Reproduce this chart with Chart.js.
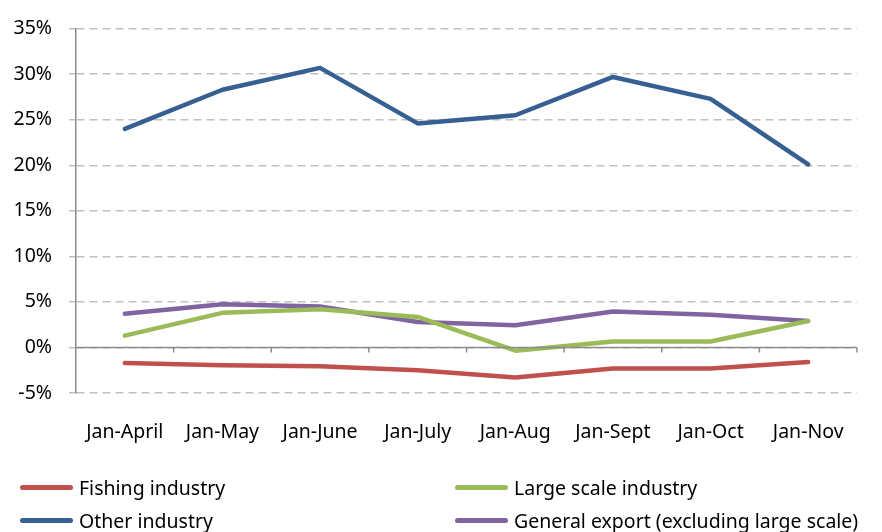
<!DOCTYPE html>
<html>
<head>
<meta charset="utf-8">
<script src="https://cdn.jsdelivr.net/npm/chart.js@4"></script>
<style>
  html, body { margin: 0; padding: 0; background: #fff; }
  #wrap { position: relative; width: 882px; height: 532px; overflow: hidden; }
  #legend { position: absolute; left: 0; top: 0; width: 882px; height: 532px; pointer-events: none;
            font-family: "Noto Sans", sans-serif; font-size: 19.5px; color: #000; }
  .item { position: absolute; display: flex; align-items: center; white-space: nowrap; }
  .swatch { width: 53px; height: 5px; border-radius: 3px; margin-right: 6px; }
</style>
</head>
<body>
<div id="wrap">
  <canvas id="myChart" width="882" height="532"></canvas>
  <div id="legend"></div>
</div>
<script>
// data (percent)
const labels = ['Jan-April', 'Jan-May', 'Jan-June', 'Jan-July', 'Jan-Aug', 'Jan-Sept', 'Jan-Oct', 'Jan-Nov'];
const fishing = [-1.7, -1.95, -2.05, -2.5, -3.3, -2.3, -2.3, -1.6];
const largeScale = [1.3, 3.8, 4.2, 3.35, -0.35, 0.65, 0.65, 2.9];
const otherIndustry = [24.0, 28.3, 30.7, 24.6, 25.5, 29.7, 27.3, 20.1];
const generalExport = [3.7, 4.75, 4.5, 2.8, 2.45, 3.95, 3.6, 2.9];
const yTicks = [-5, 0, 5, 10, 15, 20, 25, 30, 35];

const names = ['Fishing industry', 'Large scale industry', 'Other industry', 'General export (excluding large scale)'];
const colors = ['#C0504D', '#9BBB59', '#376092', '#8064A2'];
const series = [fishing, largeScale, otherIndustry, generalExport];

const font = "'Noto Sans', sans-serif";
const fontSize = 19.5;

// zero line + category boundary tick marks, like the excel axis
const zeroAxis = {
    id: 'zeroAxis',
    afterDatasetsDraw(chart) {
        const ctx = chart.ctx;
        const x = chart.scales.x;
        const y0 = chart.scales.y.getPixelForValue(0);
        const area = chart.chartArea;
        ctx.save();
        ctx.strokeStyle = '#8C8C8C';
        ctx.lineWidth = 1.5;
        ctx.beginPath();
        ctx.moveTo(area.left, y0);
        ctx.lineTo(area.right, y0);
        const step = (area.right - area.left) / labels.length;
        for (let i = 1; i <= labels.length; i++) {
            const px = x.getPixelForValue(i - 1) + step / 2;
            ctx.moveTo(px, y0);
            ctx.lineTo(px, y0 + 5);
        }
        ctx.stroke();
        ctx.restore();
    }
};

const myChart = new Chart('myChart', {
    type: 'line',
    data: {
        labels: labels,
        datasets: series.map((s, i) => ({
            label: names[i],
            data: s,
            borderColor: colors[i],
            backgroundColor: colors[i],
            borderWidth: 4.5,
            pointRadius: 0,
            tension: 0,
            borderCapStyle: 'round',
            borderJoinStyle: 'round'
        }))
    },
    options: {
        responsive: false,
        animation: false,
        layout: { padding: { left: 0, right: 25, top: 25, bottom: 0 } },
        plugins: {
            legend: { display: false },
            tooltip: { enabled: false }
        },
        scales: {
            x: {
                offset: true,
                grid: { display: false, drawTicks: false },
                border: { display: false },
                ticks: { color: '#000', font: { family: font, size: fontSize }, padding: 28, maxRotation: 0, autoSkip: false },
                afterFit(scale) { scale.height = 139; }
            },
            y: {
                min: -5,
                max: 35,
                afterBuildTicks(scale) { scale.ticks = yTicks.map(v => ({ value: v })); },
                grid: { color: '#C0C0C0', lineWidth: 1.5, tickLength: 7, tickColor: '#C0C0C0' },
                border: { display: true, color: '#8C8C8C', width: 1.5, dash: [8, 5] },
                ticks: {
                    color: '#000',
                    font: { family: font, size: fontSize },
                    padding: 17,
                    callback: v => v + '%'
                },
                afterFit(scale) { scale.width = 76; }
            }
        }
    },
    plugins: [zeroAxis]
});

// html legend in two columns, built from the chart datasets
const legendPos = [[20, 487], [455, 487], [20, 520], [455, 520]];
const legend = document.getElementById('legend');
myChart.data.datasets.forEach((ds, i) => {
    const item = document.createElement('div');
    item.className = 'item';
    item.style.left = legendPos[i][0] + 'px';
    item.style.top = (legendPos[i][1] - 13) + 'px';
    item.style.height = '26px';
    const sw = document.createElement('span');
    sw.className = 'swatch';
    sw.style.background = ds.borderColor;
    const tx = document.createElement('span');
    tx.textContent = ds.label;
    item.appendChild(sw);
    item.appendChild(tx);
    legend.appendChild(item);
});
</script>
</body>
</html>
